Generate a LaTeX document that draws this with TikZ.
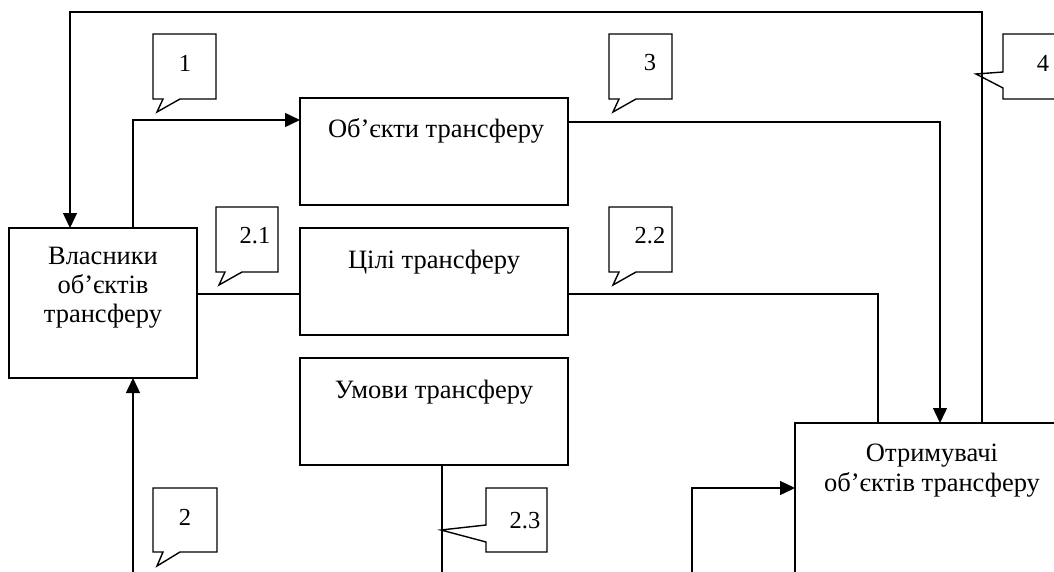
\documentclass[tikz,border=0pt]{standalone}
\usepackage{fontspec}
\setmainfont{Liberation Serif}
\usetikzlibrary{arrows.meta,calc}
\begin{document}
\begin{tikzpicture}[x=1pt,y=-1pt,
 line width=1.4pt,
 box/.style={draw, line width=1.4pt, inner sep=0pt, outer sep=0pt, anchor=north west},
 txt/.style={font=\fontsize{26.5}{29}\selectfont, anchor=base, inner sep=0pt},
 num/.style={font=\fontsize{24.5}{29}\selectfont, inner sep=0pt},
 conn/.style={line width=1.4pt},
 arr/.style={conn, -{Triangle[length=15pt,width=14pt]}},
 callout/.style={draw, line width=1.4pt, line join=miter}]

\useasboundingbox (0,0) rectangle (1054,572);
\clip (0,0) rectangle (1054,572);

% boxes
\node[box, minimum width=188pt, minimum height=150pt] (own) at (9,228) {};
\node[box, minimum width=268pt, minimum height=107pt] (obj) at (300,98) {};
\node[box, minimum width=268pt, minimum height=107pt] (goal) at (300,228) {};
\node[box, minimum width=268pt, minimum height=107pt] (cond) at (300,358) {};
\node[box, minimum width=290pt, minimum height=200pt] (rec) at (795,423) {};

% texts
\node[txt] (ownA) at (103,264) {Власники};
\node[txt] (ownB) at (103,293) {об’єктів};
\node[txt] (ownC) at (103,322) {трансферу};
\node[txt] (objT) at (436,138) {Об’єкти трансферу};
\node[txt] (goalT) at (434,268) {Цілі трансферу};
\node[txt] (condT) at (434,398) {Умови трансферу};
\node[txt] (recA) at (932,461) {Отримувачі};
\node[txt] (recB) at (932,491) {об’єктів трансферу};

% connectors
\draw[arr] ([xshift=30pt]own.north) |- ($(obj.north west)+(0,22)$);
\draw[arr] ($(obj.north east)+(0,24)$) -| (rec.north);
\draw[arr] ([xshift=42pt]rec.north) -- ++(0,-411) -| ([xshift=-33pt]own.north);
\draw[conn] ($(own.north east)+(0,66)$) -- ($(goal.north west)+(0,66)$);
\draw[conn] ($(goal.north east)+(0,66)$) -| ([xshift=-62pt]rec.north);
\coordinate (e23) at (442,580);
\draw[conn] ([xshift=8pt]cond.south) -- (e23);
\coordinate (e2) at (133,580);
\draw[arr] (e2) -- (e2 |- own.south);
\coordinate (e5) at (692,580);
\draw[arr] (e5) |- ($(rec.north west)+(0,65)$);

% callouts
\draw[callout] (153,34) -- (216,34) -- (216,99) -- (180,99) -- (157,112) -- (163,99) -- (153,99) -- cycle;
\node[num] (n1) at (185,63) {1};
\draw[callout] (609,34) -- (672,34) -- (672,99) -- (636,99) -- (613,112) -- (619,99) -- (609,99) -- cycle;
\node[num] (n3) at (650,63) {3};
\draw[callout] (216,207) -- (278,207) -- (278,272) -- (242,272) -- (219,285) -- (225,272) -- (216,272) -- cycle;
\node[num] (n21) at (255,236) {2.1};
\draw[callout] (609,207) -- (672,207) -- (672,272) -- (636,272) -- (613,285) -- (619,272) -- (609,272) -- cycle;
\node[num] (n22) at (650,236) {2.2};
\draw[callout] (153,488) -- (217,488) -- (217,552) -- (180,552) -- (157,566) -- (163,552) -- (153,552) -- cycle;
\node[num] (n2) at (185,517) {2};
\draw[callout] (486,488) -- (547,488) -- (547,552) -- (486,552) -- (486,542) -- (441,530) -- (486,525) -- cycle;
\node[num] (n23) at (525,521) {2.3};
\draw[callout] (1003,34) -- (1070,34) -- (1070,99) -- (1003,99) -- (1003,88) -- (976,74) -- (1003,72) -- cycle;
\node[num] (n4) at (1043,63) {4};
\end{tikzpicture}
\end{document}
